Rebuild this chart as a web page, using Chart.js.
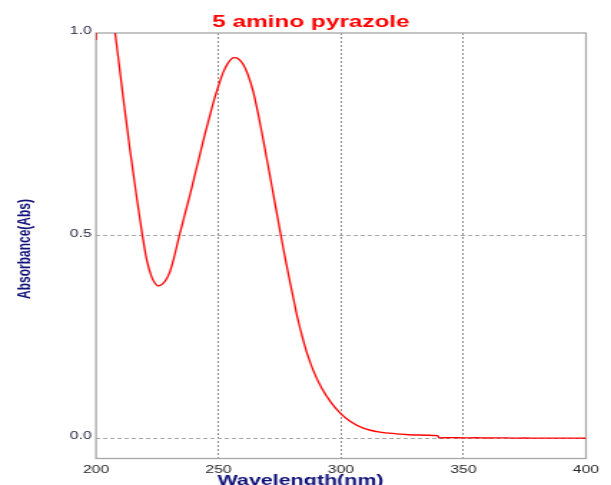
<!DOCTYPE html>
<html>
<head>
<meta charset="utf-8">
<script src="https://cdn.jsdelivr.net/npm/chart.js@4/dist/chart.umd.min.js"></script>
<style>
  html, body { margin: 0; padding: 0; background: #ffffff; overflow: hidden; }
  /* the spectrum is drawn on a narrow canvas and widened to the window */
  #wrap { width: 427px; height: 485px; transform: scaleX(1.43091); transform-origin: 0 0; }
  canvas { display: block; }
</style>
</head>
<body>
<div id="wrap"><canvas id="spec" width="427" height="485"></canvas></div>
<script>
// UV-Vis absorption spectrum of 5-aminopyrazole
const chartTitle = '5 amino pyrazole';
const xAxisTitle = 'Wavelength(nm)';
const yAxisTitle = 'Absorbance(Abs)';

const wavelengths = [
  200, 200.4, 205, 207.8, 209.5, 211.1, 213.9, 216.6, 218.7, 220.7,
  222.7, 224.0, 225.3, 226.5, 228.0, 230.0, 231.6, 234.0, 236.2, 238.4,
  240.4, 242.4, 244.4, 246.5, 248.2, 249.9, 252.0, 254.0, 256.3, 258.2,
  260.1, 262.0, 264.2, 266.2, 268.3, 270.4, 272.4, 274.4, 276.4, 278.4,
  280.4, 282.4, 284.4, 286.4, 288.7, 292.1, 296.2, 299.9, 303.7, 309.1,
  315.9, 322.7, 330, 339.5, 340, 345, 350, 355, 360, 365,
  370, 375, 380, 385, 390, 395, 400
];
const absorbance = [
  0.983, 1.30, 1.14, 1.0, 0.919, 0.840, 0.710, 0.594, 0.510, 0.440,
  0.398, 0.383, 0.376, 0.378, 0.386, 0.408, 0.440, 0.500, 0.551, 0.602,
  0.651, 0.700, 0.749, 0.797, 0.835, 0.868, 0.904, 0.927, 0.939, 0.936,
  0.922, 0.897, 0.855, 0.800, 0.735, 0.667, 0.601, 0.535, 0.470, 0.408,
  0.350, 0.293, 0.246, 0.205, 0.167, 0.124, 0.086, 0.061, 0.042, 0.025,
  0.015, 0.011, 0.008, 0.0064, 0.001, 0.0014, 0.0009, 0.0012, 0.0006, 0.0009,
  0.0004, 0.0006, 0.0003, 0.0004, 0.0002, 0.0001, 0.0
];
const xTicks = [200, 250, 300, 350, 400];
const yTicks = [0.0, 0.5, 1.0];

const FONT = "'Liberation Sans', Arial, sans-serif";
const NAVY = '#12127a';

// frame, titles and axis captions
const decorations = {
  id: 'decorations',
  beforeDatasetsDraw(chart) {
    const { ctx, chartArea: a } = chart;
    ctx.save();
    ctx.strokeStyle = '#a6a6a6';
    ctx.lineWidth = 1.3;
    ctx.strokeRect(a.left, a.top, a.right - a.left, a.bottom - a.top);
    ctx.restore();
  },
  afterDraw(chart) {
    const { ctx } = chart;
    ctx.save();
    ctx.fillStyle = '#ff0000';
    ctx.font = 'bold 17px ' + FONT;
    ctx.textAlign = 'center';
    ctx.textBaseline = 'alphabetic';
    ctx.fillText(chartTitle, 217.3, 26.5);

    ctx.fillStyle = NAVY;
    ctx.font = 'bold 15px ' + FONT;
    ctx.fillText(xAxisTitle, 210, 485);

    ctx.translate(17.5, 249);
    ctx.rotate(-Math.PI / 2);
    ctx.font = 'bold 12px ' + FONT;
    ctx.textBaseline = 'middle';
    ctx.fillText(yAxisTitle, 0, 0);
    ctx.restore();
  }
};

new Chart(document.getElementById('spec'), {
  type: 'line',
  data: {
    datasets: [{
      data: wavelengths.map((w, i) => ({ x: w, y: absorbance[i] })),
      borderColor: '#ff0000',
      borderWidth: 1.3,
      pointRadius: 0,
      fill: false,
      cubicInterpolationMode: 'monotone'
    }]
  },
  options: {
    responsive: false,
    animation: false,
    devicePixelRatio: 1,
    layout: { padding: { top: 33, right: 17.5, left: 0, bottom: 0 } },
    plugins: { legend: { display: false }, tooltip: { enabled: false }, title: { display: false } },
    scales: {
      x: {
        type: 'linear',
        min: 200,
        max: 400,
        afterBuildTicks: s => { s.ticks = xTicks.map(v => ({ value: v })); },
        afterFit: s => { s.height = 26.5; },
        border: { display: false, dash: [2, 2] },
        grid: {
          drawTicks: false,
          color: c => (c.tick && (c.tick.value === 200 || c.tick.value === 400)) ? 'rgba(0,0,0,0)' : '#8c8c8c',
          lineWidth: 1
        },
        ticks: {
          padding: 5,
          color: '#262626',
          font: { family: FONT, size: 11 },
          maxRotation: 0,
          callback: v => String(v)
        }
      },
      y: {
        min: -0.05,
        max: 1.0,
        afterBuildTicks: s => { s.ticks = yTicks.map(v => ({ value: v })); },
        afterFit: s => { s.width = 67.1; },
        border: { display: false, dash: [3, 2] },
        grid: {
          drawTicks: false,
          color: c => (c.tick && c.tick.value === 1) ? 'rgba(0,0,0,0)' : '#a8a8a8',
          lineWidth: 1
        },
        ticks: {
          padding: 3,
          labelOffset: -2,
          color: '#262640',
          font: { family: FONT, size: 11 },
          callback: v => v.toFixed(1)
        }
      }
    }
  },
  plugins: [decorations]
});
</script>
</body>
</html>
